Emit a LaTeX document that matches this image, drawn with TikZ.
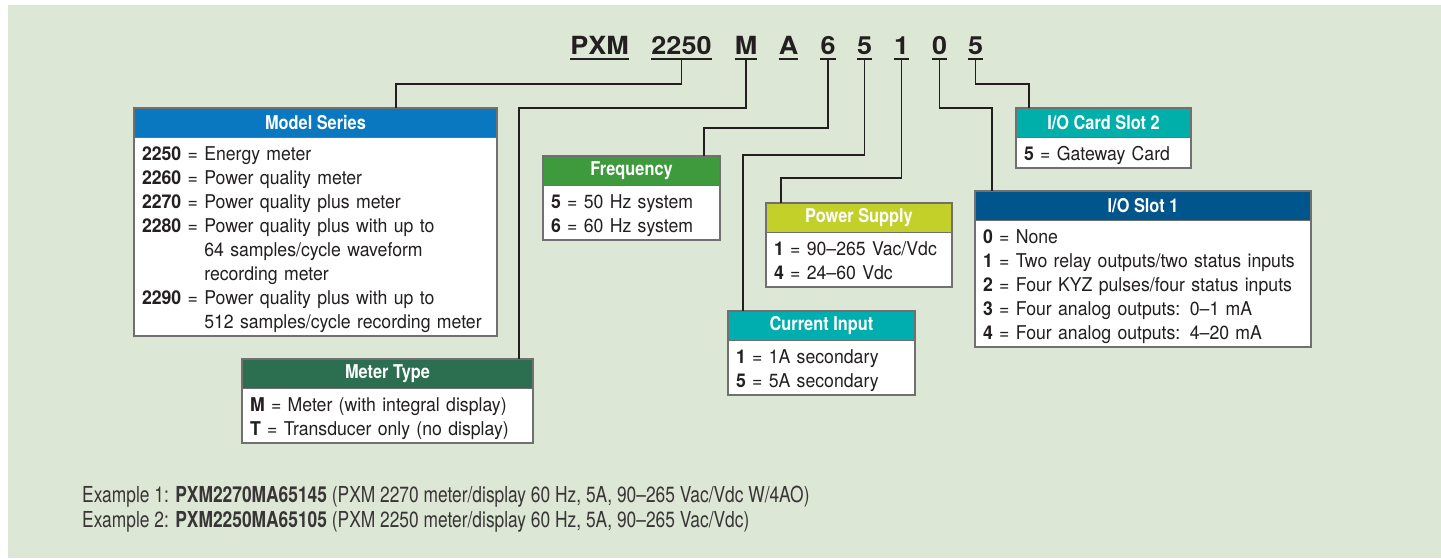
\documentclass[tikz,border=0pt]{standalone}
\usepackage{fontspec}
\setmainfont{TeX Gyre Heros}
\newfontfamily\bodyfam{TeX Gyre Heros}[FakeStretch=0.93]
\newfontfamily\hdrfam{TeX Gyre Heros}[FakeStretch=0.86]
\newfontfamily\exfam{TeX Gyre Heros}[FakeStretch=0.79]
\newfontfamily\codefam{TeX Gyre Heros}[FakeStretch=1.08]
\usetikzlibrary{positioning}

\definecolor{bgcol}{HTML}{DCE7D5}
\definecolor{inkcol}{HTML}{231F20}
\definecolor{boxgray}{HTML}{707070}
\definecolor{msblue}{HTML}{0A78C1}
\definecolor{mtgreen}{HTML}{2C6E50}
\definecolor{frgreen}{HTML}{3E9A3C}
\definecolor{psyellow}{HTML}{C3D02A}
\definecolor{citeal}{HTML}{00AEB0}
\definecolor{slottwo}{HTML}{00AFAA}
\definecolor{slotone}{HTML}{00558C}

\newcommand{\optitem}[2]{\textbf{#1} = #2}
\newcommand{\optcont}[2]{\phantom{\textbf{#1} = }#2}

\tikzset{
	hdr/.style={draw=boxgray, line width=1.2pt, outer sep=0pt, inner sep=0pt, text=white,
		font=\hdrfam\bfseries\fontsize{19}{24}\selectfont, minimum height=29.5pt, anchor=north west},
	bdy/.style={draw=boxgray, line width=1.2pt, outer sep=0pt, fill=white, text=inkcol,
		font=\bodyfam\fontsize{19}{24}\selectfont, align=left, inner xsep=8pt, inner ysep=0pt,
		execute at begin node=\rule{0pt}{22.5pt}, execute at end node=\rule[-8pt]{0pt}{8pt}},
	code/.style={font=\codefam\bfseries\fontsize{25}{30}\selectfont, text=inkcol, inner sep=0pt, anchor=base},
	uline/.style={line width=2pt, draw=inkcol},
	conn/.style={line width=1.3pt, draw=inkcol},
	extext/.style={font=\exfam\fontsize{22}{25}\selectfont, text=inkcol!90, inner sep=0pt, anchor=base west}
}

\begin{document}
\begin{tikzpicture}[x=1pt, y=-1pt]
	\useasboundingbox ( 0, 0 ) rectangle ( 1441, 558 );
	\fill [white] ( 0, 0 ) rectangle ( 1441, 558 );
	\fill [bgcol] ( 8, 5 ) rectangle ( 1441, 558 );

	% код заказа
	\node [code] (cpxm) at ( 599.5, 54 ) {PXM};
	\node [code] (c2250) at ( 681.5, 54 ) {2250};
	\node [code] (cm) at ( 746, 54 ) {M};
	\node [code] (ca) at ( 788.5, 54 ) {A};
	\node [code] (csix) at ( 828, 54 ) {6};
	\node [code] (cfive) at ( 864.5, 54 ) {5};
	\node [code] (cone) at ( 901.5, 54 ) {1};
	\node [code] (czero) at ( 939.5, 54 ) {0};
	\node [code] (clast) at ( 975.5, 54 ) {5};
	\draw [uline] ([yshift=-5pt]cpxm.base west) -- ([yshift=-5pt]cpxm.base east);
	\draw [uline] ([yshift=-5pt]c2250.base west) -- ([yshift=-5pt]c2250.base east);
	\draw [uline] ([yshift=-5pt]cm.base west) -- ([yshift=-5pt]cm.base east);
	\draw [uline] ([yshift=-5pt]ca.base west) -- ([yshift=-5pt]ca.base east);
	\draw [uline] ([yshift=-5pt]csix.base west) -- ([yshift=-5pt]csix.base east);
	\draw [uline] ([yshift=-5pt]cfive.base west) -- ([yshift=-5pt]cfive.base east);
	\draw [uline] ([yshift=-5pt]cone.base west) -- ([yshift=-5pt]cone.base east);
	\draw [uline] ([yshift=-5pt]czero.base west) -- ([yshift=-5pt]czero.base east);
	\draw [uline] ([yshift=-5pt]clast.base west) -- ([yshift=-5pt]clast.base east);

	% Model Series
	\node [hdr, fill=msblue, minimum width=363pt] (ms) at ( 134, 108 ) {Model Series};
	\node [bdy, text width=347pt, below=0pt of ms] (msb) {\optitem{2250}{Energy meter}\\
		\optitem{2260}{Power quality meter}\\
		\optitem{2270}{Power quality plus meter}\\
		\optitem{2280}{Power quality plus with up to}\\
		\optcont{2280}{64 samples/cycle waveform}\\
		\optcont{2280}{recording meter}\\
		\optitem{2290}{Power quality plus with up to}\\
		\optcont{2290}{512 samples/cycle recording meter}};

	% Meter Type
	\node [hdr, fill=mtgreen, minimum width=291pt] (mt) at ( 242, 359 ) {Meter Type};
	\node [bdy, text width=275pt, below=0pt of mt] (mtb) {\optitem{M}{Meter (with integral display)}\\
		\optitem{T}{Transducer only (no display)}};

	% Frequency
	\node [hdr, fill=frgreen, minimum width=177pt] (fr) at ( 543, 156 ) {Frequency};
	\node [bdy, text width=161pt, below=0pt of fr] (frb) {\optitem{5}{50 Hz system}\\
		\optitem{6}{60 Hz system}};

	% Power Supply
	\node [hdr, fill=psyellow, minimum width=186pt] (ps) at ( 766, 203 ) {Power Supply};
	\node [bdy, text width=170pt, below=0pt of ps] (psb) {\optitem{1}{90–265 Vac/Vdc}\\
		\optitem{4}{24–60 Vdc}};

	% Current Input
	\node [hdr, fill=citeal, minimum width=187pt] (ci) at ( 728, 311 ) {Current Input};
	\node [bdy, text width=171pt, below=0pt of ci] (cib) {\optitem{1}{1A secondary}\\
		\optitem{5}{5A secondary}};

	% I/O Card Slot 2
	\node [hdr, fill=slottwo, minimum width=175pt] (st) at ( 1016, 108 ) {I/O Card Slot 2};
	\node [bdy, text width=159pt, below=0pt of st] (stb) {\optitem{5}{Gateway Card}};

	% I/O Slot 1
	\node [hdr, fill=slotone, minimum width=336pt] (so) at ( 975, 191 ) {I/O Slot 1};
	\node [bdy, text width=320pt, below=0pt of so] (sob) {\optitem{0}{None}\\
		\optitem{1}{Two relay outputs/two status inputs}\\
		\optitem{2}{Four KYZ pulses/four status inputs}\\
		\optitem{3}{Four analog outputs: 0–1 mA}\\
		\optitem{4}{Four analog outputs: 4–20 mA}};

	% связи
	\draw [conn] (c2250.base) ++( 0, 5 ) -- ++( 0, 25 ) -| ([xshift=262pt]ms.north west);
	\draw [conn] (cm.base) ++( 0, 5 ) -- ++( 0, 49 ) -| ([xshift=277pt]mt.north west);
	\draw [conn] (csix.base) ++( 0, 5 ) -- ++( 0, 69 ) -| ([xshift=161pt]fr.north west);
	\draw [conn] (cfive.base) ++( 0, 5 ) -- ++( 0, 96 ) -| ([xshift=15pt]ci.north west);
	\draw [conn] (cone.base) ++( 0, 5 ) -- ++( 0, 119 ) -| ([xshift=15pt]ps.north west);
	\draw [conn] (czero.base) ++( 0, 5 ) -- ++( 0, 49 ) -| ([xshift=17pt]so.north west);
	\draw [conn] (clast.base) ++( 0, 5 ) -- ++( 0, 25 ) -| ([xshift=13pt]st.north west);

	% примеры
	\node [extext] (exone) at ( 82, 502 ) {Example 1: \textbf{PXM2270MA65145} (PXM 2270 meter/display 60 Hz, 5A, 90–265 Vac/Vdc W/4AO)};
	\node [extext] (extwo) at ( 82, 527 ) {Example 2: \textbf{PXM2250MA65105} (PXM 2250 meter/display 60 Hz, 5A, 90–265 Vac/Vdc)};
\end{tikzpicture}
\end{document}
